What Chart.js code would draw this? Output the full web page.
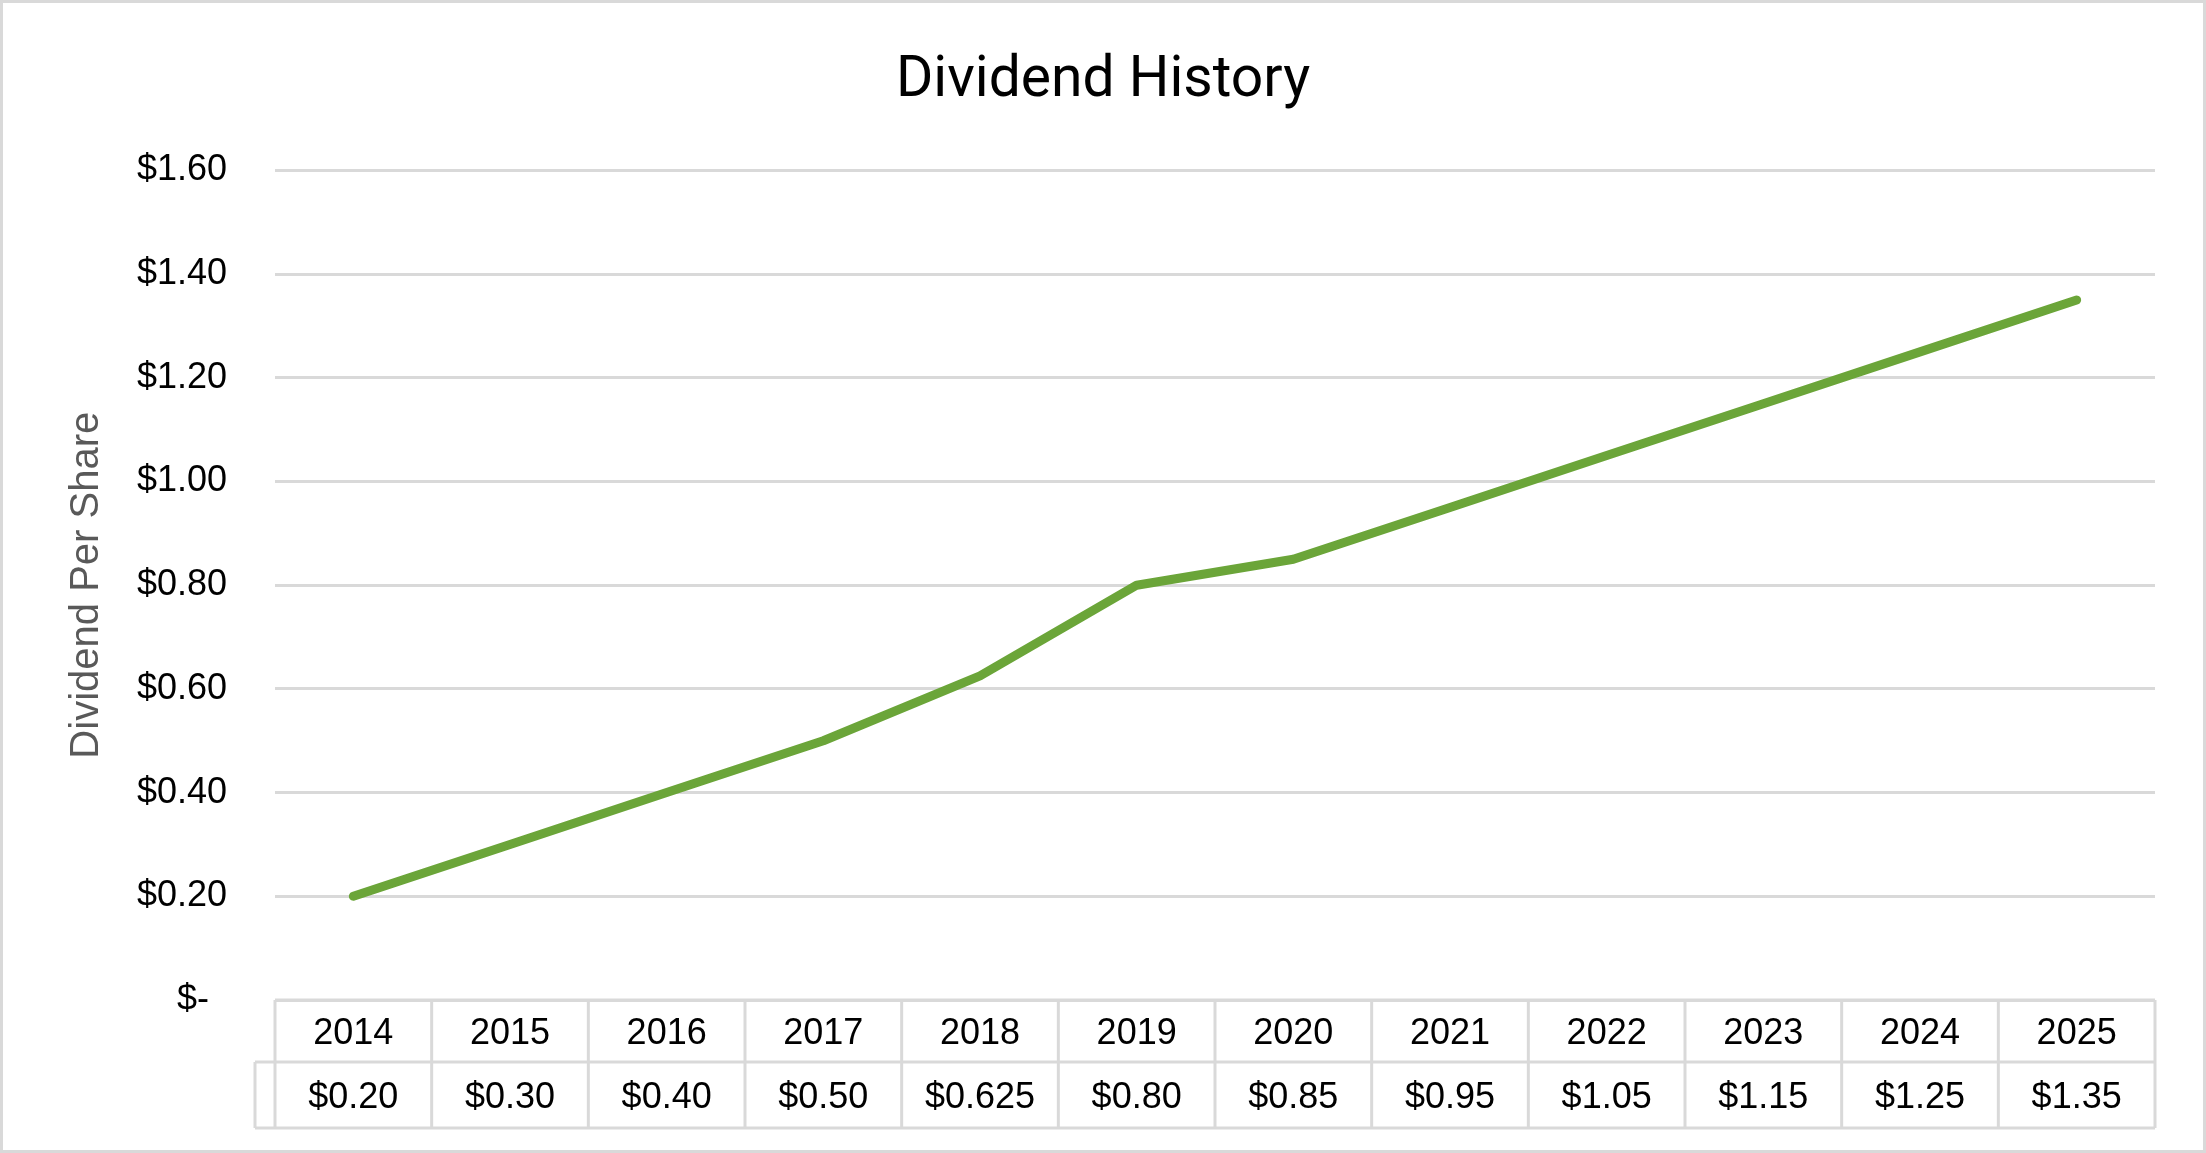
<!DOCTYPE html>
<html>
<head>
<meta charset="utf-8">
<script src="https://cdn.jsdelivr.net/npm/chart.js@4/dist/chart.umd.min.js"></script>
<style>
  html, body { margin: 0; padding: 0; background: #ffffff; }
  canvas { display: block; }
</style>
</head>
<body>
<canvas id="c" width="2206" height="1153"></canvas>
<script>
const years = ['2014','2015','2016','2017','2018','2019','2020','2021','2022','2023','2024','2025'];
const dividends = [0.20, 0.30, 0.40, 0.50, 0.625, 0.80, 0.85, 0.95, 1.05, 1.15, 1.25, 1.35];
const chartTitle = 'Dividend History';
const yAxisTitle = 'Dividend Per Share';
const yMin = 0, yMax = 1.6, yStep = 0.2;

const GRID = '#d9d9d9';
const TICK_FONT = { family: 'Liberation Sans', size: 36 };

function fmtMoney(v) {
  if (Math.abs(v) < 1e-9) return '$-\u2002';
  const cents = Math.round(v * 1000);
  return '$' + (cents % 10 === 0 ? v.toFixed(2) : v.toFixed(3));
}

const frameAndTable = {
  id: 'frameAndTable',
  beforeDraw(chart) {
    const ctx = chart.ctx;
    ctx.save();
    ctx.fillStyle = '#ffffff';
    ctx.fillRect(0, 0, chart.width, chart.height);
    ctx.restore();
  },
  afterDraw(chart) {
    const ctx = chart.ctx;
    const ca = chart.chartArea;
    const xs = chart.scales.x;
    const n = years.length;
    const colW = (ca.right - ca.left) / n;
    const top = ca.bottom;
    const mid = top + 62;
    const bot = top + 128;
    const keyLeft = ca.left - 20;
    ctx.save();
    ctx.strokeStyle = GRID;
    ctx.lineWidth = 3;
    ctx.beginPath();
    ctx.moveTo(ca.left, top); ctx.lineTo(ca.right, top);
    ctx.moveTo(keyLeft, mid); ctx.lineTo(ca.right, mid);
    ctx.moveTo(keyLeft, bot); ctx.lineTo(ca.right, bot);
    for (let i = 0; i <= n; i++) {
      const x = ca.left + i * colW;
      ctx.moveTo(x, top); ctx.lineTo(x, bot);
    }
    ctx.moveTo(keyLeft, mid); ctx.lineTo(keyLeft, bot);
    ctx.stroke();

    ctx.fillStyle = '#000000';
    ctx.font = TICK_FONT.size + 'px "' + TICK_FONT.family + '"';
    ctx.textAlign = 'center';
    ctx.textBaseline = 'middle';
    for (let i = 0; i < n; i++) {
      const cx = xs.getPixelForValue(i);
      ctx.fillText(years[i], cx, (top + mid) / 2 + 3);
      ctx.fillText(fmtMoney(dividends[i]).trim(), cx, (mid + bot) / 2 + 3);
    }

    // outer frame
    ctx.strokeStyle = GRID;
    ctx.lineWidth = 3;
    ctx.strokeRect(1.5, 1.5, chart.width - 3, chart.height - 3);
    ctx.restore();
  }
};

new Chart(document.getElementById('c'), {
  type: 'line',
  data: {
    labels: years,
    datasets: [{
      data: dividends,
      borderColor: '#6BA539',
      backgroundColor: '#6BA539',
      borderWidth: 9,
      pointRadius: 0,
      tension: 0,
      borderCapStyle: 'round',
      borderJoinStyle: 'round',
      fill: false
    }]
  },
  options: {
    responsive: false,
    animation: false,
    devicePixelRatio: 1,
    layout: { padding: { left: 51, right: 51, top: 0, bottom: 25 } },
    plugins: {
      legend: { display: false },
      tooltip: { enabled: false },
      title: {
        display: true,
        text: chartTitle,
        color: '#000000',
        font: { family: 'Roboto', size: 57, weight: 'normal' },
        padding: { top: 48, bottom: 54 }
      }
    },
    scales: {
      x: {
        type: 'category',
        offset: true,
        grid: { display: false },
        border: { display: false },
        ticks: { display: false },
        afterFit(scale) { scale.height = 128; }
      },
      y: {
        min: yMin,
        max: yMax,
        border: { display: false },
        grid: { color: GRID, lineWidth: 3, drawTicks: false },
        ticks: {
          stepSize: yStep,
          padding: 48,
          color: '#000000',
          font: TICK_FONT,
          callback: (v) => fmtMoney(v)
        },
        title: {
          display: true,
          text: yAxisTitle,
          color: '#595959',
          font: { family: 'Liberation Sans', size: 40 },
          padding: { top: 12, bottom: 0 }
        },
        afterFit(scale) { scale.width = 224; }
      }
    }
  },
  plugins: [frameAndTable]
});
</script>
</body>
</html>
